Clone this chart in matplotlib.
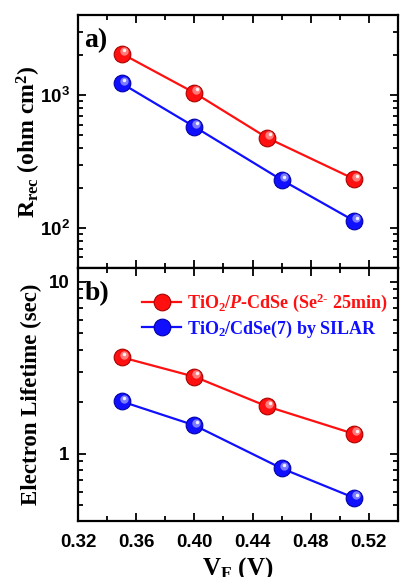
import matplotlib
matplotlib.use("Agg")
import matplotlib.pyplot as plt
from matplotlib.ticker import MultipleLocator, NullFormatter, FixedLocator
from matplotlib.transforms import offset_copy

# ---- data ----
vf_red = [0.35, 0.40, 0.45, 0.51]
vf_blue = [0.35, 0.40, 0.46, 0.51]
rrec_red = [2050, 1040, 477, 233]
rrec_blue = [1224, 578, 230, 113]
tau_red = [3.63, 2.80, 1.88, 1.30]
tau_blue = [2.01, 1.46, 0.82, 0.552]
label_red = r"TiO$_{\mathrm{2}}$/$\mathit{P}$-CdSe (Se$^{\mathrm{2\text{-}}}$ 25min)"
label_blue = r"TiO$_{\mathrm{2}}$/CdSe(7) by SILAR"
xticks = [0.32, 0.36, 0.40, 0.44, 0.48, 0.52]
xticklabels = ["0.32", "0.36", "0.40", "0.44", "0.48", "0.52"]

plt.rcParams['mathtext.fontset'] = 'custom'
plt.rcParams['mathtext.rm'] = 'Liberation Serif:bold'
plt.rcParams['mathtext.it'] = 'Liberation Serif:bold:italic'
plt.rcParams['mathtext.bf'] = 'Liberation Serif:bold'

SERIF = 'Liberation Serif'
SANS = 'Liberation Sans'

fig = plt.figure(figsize=(4.0, 5.77), dpi=100)
ax1 = fig.add_axes([0.195, 0.5355, 0.80, 0.4385])
ax2 = fig.add_axes([0.195, 0.097, 0.80, 0.4385])

red = '#ff1010'
blue = '#1010ff'

def plot_series(ax, x, y, color, dark, label=None):
    ax.plot(x, y, '-', color=color, lw=1.6, zorder=2, label=label,
            marker='o', ms=12, mfc=color, mec=dark, mew=0.8)
    tr = offset_copy(ax.transData, fig=fig, x=1.5, y=1.8, units='points')
    ax.plot(x, y, 'o', ms=6, mfc='#ffffff', mec='none', alpha=0.45, transform=tr, zorder=3)
    tr2 = offset_copy(ax.transData, fig=fig, x=2.0, y=2.4, units='points')
    ax.plot(x, y, 'o', ms=2.5, mfc='#ffffff', mec='none', alpha=0.9, transform=tr2, zorder=4)

plot_series(ax1, vf_red, rrec_red, red, '#aa0000')
plot_series(ax1, vf_blue, rrec_blue, blue, '#0000aa')
plot_series(ax2, vf_red, tau_red, red, '#aa0000', label_red)
plot_series(ax2, vf_blue, tau_blue, blue, '#0000aa', label_blue)

for ax in (ax1, ax2):
    ax.set_yscale('log')
    ax.set_xlim(0.32, 0.54)
    ax.xaxis.set_major_locator(FixedLocator(xticks))
    ax.xaxis.set_minor_locator(MultipleLocator(0.02))
    ax.tick_params(which='both', direction='in', top=True, right=True, width=1.3)
    ax.tick_params(which='major', length=6)
    ax.tick_params(which='minor', length=3.5)
    ax.tick_params(axis='x', which='major', pad=9)
    ax.tick_params(axis='y', which='major', pad=6)
    for s in ax.spines.values():
        s.set_linewidth(1.6)
    ax.yaxis.set_minor_formatter(NullFormatter())

ax1.set_ylim(50, 4000)
ax2.set_ylim(0.405, 12)
ax1.tick_params(axis='x', labelbottom=False)

ax2.set_xticklabels(xticklabels)
ax2.set_yticks([1, 10])
ax2.set_yticklabels(['1', '10'])
for ax in (ax1, ax2):
    for lab in ax.get_xticklabels() + ax.get_yticklabels():
        lab.set_fontfamily(SANS)
        lab.set_fontweight('bold')
        lab.set_fontsize(13.5)

ax1.set_ylabel(r"R$_{\mathrm{rec}}$ (ohm cm$^{\mathrm{2}}$)", fontfamily=SERIF,
               fontweight='bold', fontsize=17, labelpad=-2)
ax2.set_ylabel("Electron Lifetime (sec)", fontfamily=SERIF, fontweight='bold',
               fontsize=16.5, labelpad=5)
ax2.set_xlabel(r"V$_{\mathrm{F}}$ (V)", fontfamily=SERIF, fontweight='bold',
               fontsize=18, labelpad=3)

ax1.text(0.02, 0.95, "a)", transform=ax1.transAxes, fontfamily=SERIF,
         fontweight='bold', fontsize=20, va='top', ha='left')
ax2.text(0.02, 0.95, "b)", transform=ax2.transAxes, fontfamily=SERIF,
         fontweight='bold', fontsize=20, va='top', ha='left')

leg = ax2.legend(loc='upper right', bbox_to_anchor=(1.0, 0.95), frameon=False,
                 prop={'family': SERIF, 'weight': 'bold', 'size': 13},
                 handlelength=2.2, handletextpad=0.3, labelspacing=0.25,
                 borderaxespad=0.2)
for txt, c in zip(leg.get_texts(), [red, blue]):
    txt.set_color(c)

fig.savefig("out.png", dpi=100)
